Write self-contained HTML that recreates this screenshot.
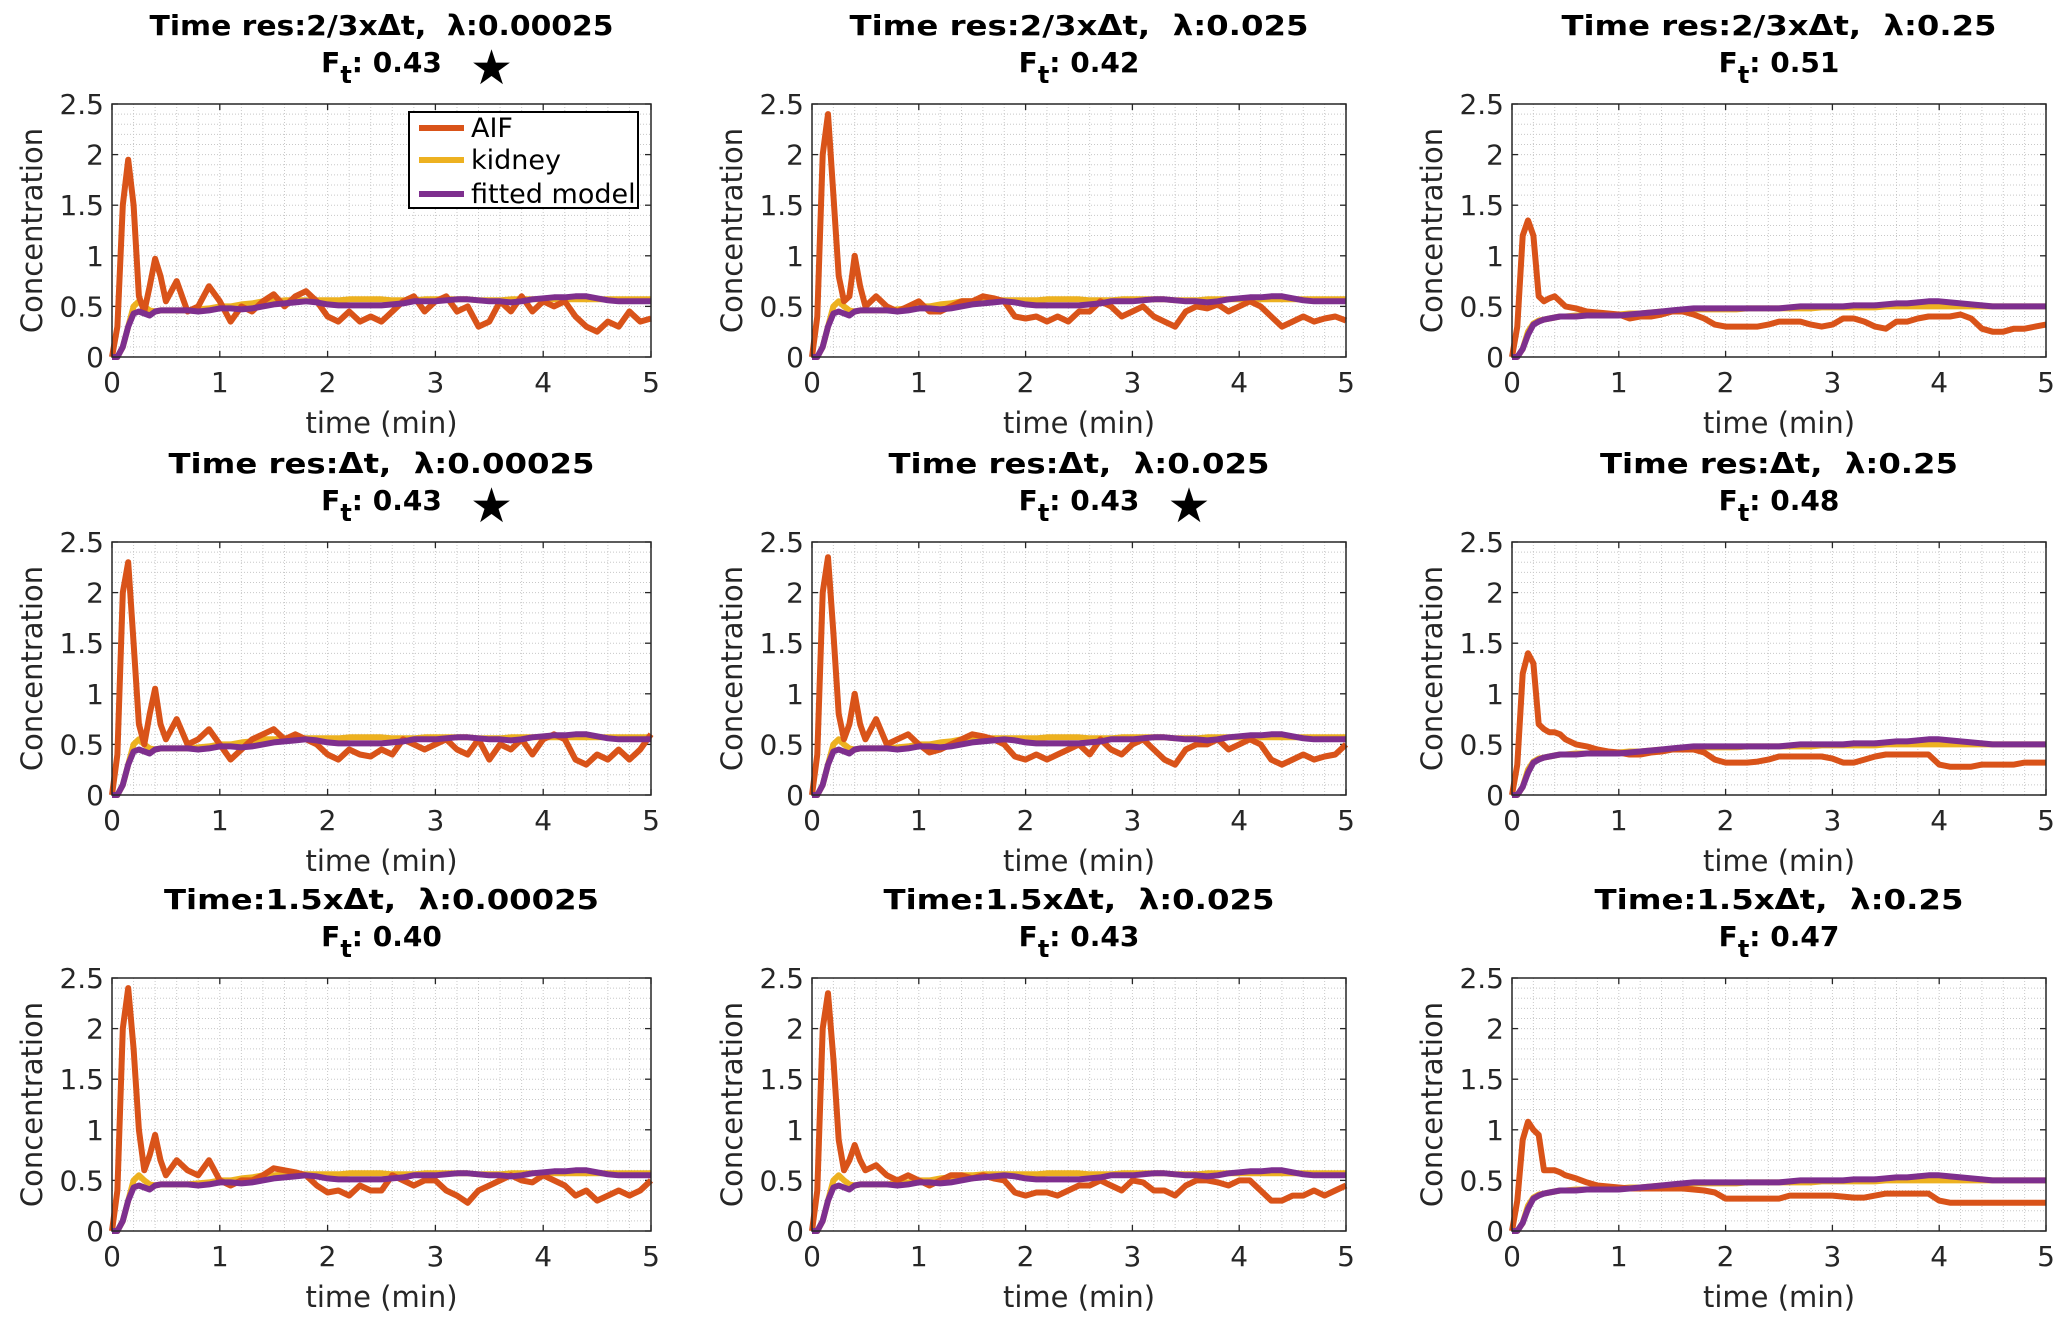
<!DOCTYPE html>
<html><head><meta charset="utf-8"><style>
body{margin:0;background:#fff}
svg{display:block;font-family:"DejaVu Sans","Liberation Sans",sans-serif}
</style></head><body>
<svg id="fig" width="2067" height="1329" viewBox="0 0 2067 1329"></svg>
<script>
const times=[0,.05,.1,.15,.2,.25,.3,.35,.4,.45,.5,.6,.7,.8,.9,1.0,1.1,1.2,1.3,1.4,1.5,1.6,1.7,1.8,1.9,2.0,2.1,2.2,2.3,2.4,2.5,2.6,2.7,2.8,2.9,3.0,3.1,3.2,3.3,3.4,3.5,3.6,3.7,3.8,3.9,4.0,4.1,4.2,4.3,4.4,4.5,4.6,4.7,4.8,4.9,5.0];
const xTicks=[0,1,2,3,4,5];
const yTicks=[0,0.5,1,1.5,2,2.5];
const yTickLabels=["0","0.5","1","1.5","2","2.5"];
const aif11=[0,.3,1.5,1.95,1.5,.6,.45,.7,.97,.8,.55,.75,.45,.5,.7,.55,.35,.5,.45,.55,.62,.5,.6,.65,.55,.4,.35,.45,.35,.4,.35,.45,.55,.6,.45,.55,.6,.45,.5,.3,.35,.55,.45,.6,.45,.55,.5,.55,.4,.3,.25,.35,.3,.45,.35,.38];
const aif12=[0,.4,2.0,2.4,1.6,.8,.55,.6,1.0,.7,.5,.6,.5,.45,.5,.55,.45,.45,.5,.55,.55,.6,.58,.55,.4,.38,.4,.35,.4,.35,.45,.45,.55,.5,.4,.45,.5,.4,.35,.3,.45,.5,.48,.52,.45,.5,.55,.5,.4,.3,.35,.4,.35,.38,.4,.36];
const aif13=[0,.3,1.2,1.35,1.2,.6,.55,.58,.6,.55,.5,.48,.45,.44,.43,.42,.38,.4,.4,.42,.45,.45,.42,.38,.32,.3,.3,.3,.3,.32,.35,.35,.35,.32,.3,.32,.38,.38,.35,.3,.28,.35,.35,.38,.4,.4,.4,.42,.38,.28,.25,.25,.28,.28,.3,.32];
const aif21=[0,.4,2.0,2.3,1.5,.7,.5,.8,1.05,.7,.55,.75,.5,.55,.65,.5,.35,.45,.55,.6,.65,.55,.6,.55,.5,.4,.35,.45,.4,.38,.45,.4,.55,.5,.45,.5,.55,.45,.4,.55,.35,.5,.45,.55,.4,.55,.6,.55,.35,.3,.4,.35,.45,.35,.45,.6];
const aif22=[0,.4,2.0,2.35,1.6,.8,.55,.7,1.0,.7,.55,.75,.5,.55,.6,.5,.42,.45,.5,.55,.6,.58,.55,.5,.38,.35,.4,.35,.4,.45,.5,.4,.55,.45,.4,.5,.55,.45,.35,.3,.45,.5,.5,.55,.45,.5,.55,.5,.35,.3,.35,.4,.35,.38,.4,.5];
const aif23=[0,.3,1.2,1.4,1.3,.7,.65,.62,.62,.6,.55,.5,.48,.45,.43,.42,.4,.4,.42,.43,.45,.45,.45,.42,.35,.32,.32,.32,.33,.35,.38,.38,.38,.38,.38,.36,.32,.32,.35,.38,.4,.4,.4,.4,.4,.3,.28,.28,.28,.3,.3,.3,.3,.32,.32,.32];
const aif31=[0,.4,2.0,2.4,1.8,1.0,.6,.75,.95,.7,.55,.7,.6,.55,.7,.5,.45,.5,.5,.55,.62,.6,.58,.55,.45,.38,.4,.35,.45,.4,.4,.55,.5,.45,.5,.5,.4,.35,.28,.4,.45,.5,.55,.5,.48,.55,.5,.45,.35,.4,.3,.35,.4,.35,.4,.5];
const aif32=[0,.4,2.0,2.35,1.7,.9,.6,.7,.85,.7,.6,.65,.55,.5,.55,.5,.45,.5,.55,.55,.52,.55,.52,.5,.38,.35,.38,.38,.35,.4,.45,.45,.5,.45,.4,.5,.48,.4,.4,.35,.45,.5,.5,.48,.45,.5,.5,.4,.3,.3,.35,.35,.4,.35,.4,.45];
const aif33=[0,.3,.9,1.08,1.0,.95,.6,.6,.6,.58,.55,.52,.48,.45,.44,.43,.42,.42,.42,.42,.42,.42,.41,.4,.38,.32,.32,.32,.32,.32,.32,.35,.35,.35,.35,.35,.34,.33,.33,.35,.37,.37,.37,.37,.37,.3,.28,.28,.28,.28,.28,.28,.28,.28,.28,.28];
const kidneyA=[0,0,.1,.3,.5,.55,.5,.46,.45,.46,.46,.46,.46,.47,.48,.5,.5,.52,.53,.55,.55,.56,.56,.56,.56,.56,.56,.57,.57,.57,.57,.56,.56,.56,.57,.57,.57,.57,.57,.56,.56,.56,.57,.57,.57,.57,.57,.57,.57,.57,.57,.57,.57,.57,.57,.57];
const fitA=[0,0,.1,.3,.43,.45,.43,.41,.45,.46,.46,.46,.46,.45,.46,.48,.48,.47,.48,.5,.52,.53,.54,.55,.54,.52,.51,.51,.51,.51,.51,.52,.53,.55,.55,.55,.56,.57,.57,.56,.55,.55,.54,.55,.57,.58,.59,.59,.6,.6,.58,.56,.55,.55,.55,.55];
const kidneyB=[0,0,.08,.25,.33,.36,.37,.38,.39,.4,.4,.41,.41,.42,.42,.42,.43,.43,.44,.45,.45,.46,.47,.47,.47,.47,.47,.48,.48,.48,.48,.48,.48,.48,.49,.49,.49,.49,.49,.49,.5,.5,.5,.5,.5,.5,.5,.5,.5,.5,.5,.5,.5,.5,.5,.5];
const fitB=[0,0,.08,.22,.32,.35,.37,.38,.39,.4,.4,.4,.41,.41,.41,.41,.42,.43,.44,.45,.46,.47,.48,.48,.48,.48,.48,.48,.48,.48,.48,.49,.5,.5,.5,.5,.5,.51,.51,.51,.52,.53,.53,.54,.55,.55,.54,.53,.52,.51,.5,.5,.5,.5,.5,.5];
const panelTitles=[
 ["Time res:2/3xΔt,  λ:0.00025","0.43",true],["Time res:2/3xΔt,  λ:0.025","0.42",false],["Time res:2/3xΔt,  λ:0.25","0.51",false],
 ["Time res:Δt,  λ:0.00025","0.43",true],["Time res:Δt,  λ:0.025","0.43",true],["Time res:Δt,  λ:0.25","0.48",false],
 ["Time:1.5xΔt,  λ:0.00025","0.40",false],["Time:1.5xΔt,  λ:0.025","0.43",false],["Time:1.5xΔt,  λ:0.25","0.47",false]];
const titleWidths=[464,459,435,426,381,358,435,391,369];
const aifSeries=[aif11,aif12,aif13,aif21,aif22,aif23,aif31,aif32,aif33];

const NS="http://www.w3.org/2000/svg";
const svg=document.getElementById('fig');
function mk(tag,attrs,parent){const e=document.createElementNS(NS,tag);for(const k in attrs)e.setAttribute(k,attrs[k]);(parent||svg).appendChild(e);return e;}
const colX=[[112,651],[812,1346],[1512,2046]];
const rowY=[[104,357],[542,795],[978,1231]];
for(let p=0;p<9;p++){
 const r=Math.floor(p/3),c=p%3;
 const x0=colX[c][0],x1=colX[c][1],y0=rowY[r][0],y1=rowY[r][1];
 const sx=v=>x0+(v/5)*(x1-x0), sy=v=>y1-(v/2.5)*(y1-y0);
 const g=mk('g',{});
 
 
 mk('rect',{x:x0,y:y0,width:x1-x0,height:y1-y0,fill:'#fff'},g);
 for(let v=0.2;v<5;v+=0.2){mk('line',{x1:sx(v),x2:sx(v),y1:y0,y2:y1,stroke:'#c8c8c8','stroke-width':1,'stroke-dasharray':'1,2'},g);}
 for(let v=0.1;v<2.5;v+=0.1){mk('line',{x1:x0,x2:x1,y1:sy(v),y2:sy(v),stroke:'#c8c8c8','stroke-width':1,'stroke-dasharray':'1,2'},g);}
 xTicks.forEach(v=>{
  mk('line',{x1:sx(v),x2:sx(v),y1:y1,y2:y1-6,stroke:'#262626','stroke-width':1.3},g);
  mk('line',{x1:sx(v),x2:sx(v),y1:y0,y2:y0+6,stroke:'#262626','stroke-width':1.3},g);
  const t=mk('text',{x:sx(v),y:y1+35,'text-anchor':'middle','font-size':28,fill:'#262626'},g);
  
  
  t.textContent=v;
 });
 yTicks.forEach((v,i)=>{
  mk('line',{x1:x0,x2:x0+6,y1:sy(v),y2:sy(v),stroke:'#262626','stroke-width':1.3},g);
  mk('line',{x1:x1,x2:x1-6,y1:sy(v),y2:sy(v),stroke:'#262626','stroke-width':1.3},g);
  const t=mk('text',{x:x0-8,y:sy(v)+10,'text-anchor':'end','font-size':28,fill:'#262626'},g);
  
  
  t.textContent=yTickLabels[i];
 });
 const line=(arr,col,name)=>{
  const d=arr.map((v,i)=>(i?'L':'M')+sx(times[i]).toFixed(1)+','+sy(v).toFixed(1)).join('');
  const pth=mk('path',{d:d,fill:'none',stroke:col,'stroke-width':6,'stroke-linejoin':'round'},g);
  
  
 };
 line(c<2?kidneyA:kidneyB,'#EDB120','kidney-line');
 line(aifSeries[p],'#D95319','aif-line');
 line(c<2?fitA:fitB,'#7E2F8E','fitted-model-line');
 mk('rect',{x:x0,y:y0,width:x1-x0,height:y1-y0,fill:'none',stroke:'#262626','stroke-width':1.5},g);
 const cx=(x0+x1)/2;
 const xl=mk('text',{x:cx,y:y1+76,'text-anchor':'middle','font-size':29,fill:'#262626'},g);
 
 
 xl.textContent='time (min)';
 const yc=(y0+y1)/2, ylx=x0-70;
 const yl=mk('text',{x:ylx,y:yc,'text-anchor':'middle','font-size':29,fill:'#262626',transform:'rotate(-90 '+ylx+' '+yc+')'},g);
 
 
 yl.textContent='Concentration';
 const t1=mk('text',{x:cx,y:y0-69,'text-anchor':'middle','font-size':28,'font-weight':'bold',fill:'#000',
   textLength:titleWidths[p],lengthAdjust:'spacingAndGlyphs',style:'white-space:pre'},g);
 
 
 t1.textContent=panelTitles[p][0];
 const t2=mk('text',{x:cx,y:y0-32,'text-anchor':'middle','font-size':28,'font-weight':'bold',fill:'#000'},g);
 
 
 const a=mk('tspan',{},t2);a.textContent='F';
 const b=mk('tspan',{dy:11,'font-size':24},t2);b.textContent='t';
 const cc=mk('tspan',{dy:-11},t2);cc.textContent=': '+panelTitles[p][1];
 if(panelTitles[p][2]){
  const s=mk('text',{x:cx+110,y:y0-20,'text-anchor':'middle','font-size':48,fill:'#000'},g);
  
  
  s.textContent='★';
 }
}
const lg=mk('g',{});


mk('rect',{x:409,y:112,width:229,height:96,fill:'#fff',stroke:'#000','stroke-width':2},lg);
[['AIF','#D95319',128],['kidney','#EDB120',160],['fitted model','#7E2F8E',194]].forEach(e=>{
 mk('line',{x1:419,x2:464,y1:e[2],y2:e[2],stroke:e[1],'stroke-width':6},lg);
 const t=mk('text',{x:471,y:e[2]+9,'font-size':27,fill:'#000'},lg);
 
 
 t.textContent=e[0];
});
</script>
</body></html>
